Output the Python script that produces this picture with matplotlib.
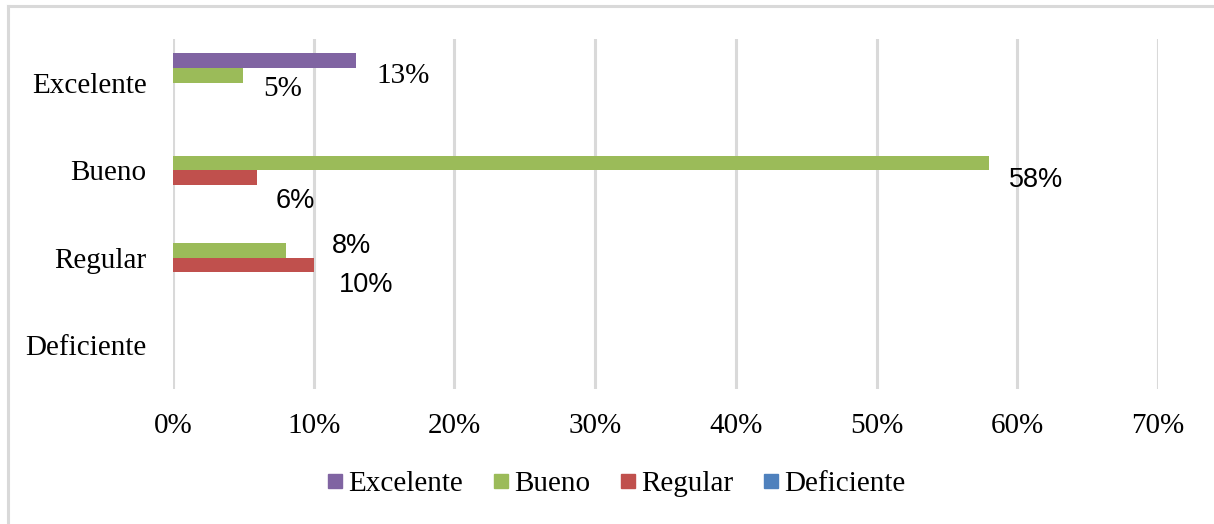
import numpy as np
import matplotlib
matplotlib.use("Agg")
import matplotlib.pyplot as plt
from matplotlib.lines import Line2D

# ---------------------------
# data
# ---------------------------
categories = ["Excelente", "Bueno", "Regular", "Deficiente"]
series_names = ["Excelente", "Bueno", "Regular", "Deficiente"]
excelente = [13, 0, 0, 0]
bueno = [5, 58, 8, 0]
regular = [0, 6, 10, 0]
deficiente = [0, 0, 0, 0]
x_ticks = [0, 10, 20, 30, 40, 50, 60, 70]

colors = ["#8064a2", "#9bbb59", "#c0504d", "#4f81bd"]
values = [excelente, bueno, regular, deficiente]

SERIF = "Liberation Serif"
SANS = "Liberation Sans"

fig = plt.figure(figsize=(12.14, 5.24), dpi=100)
ax = fig.add_axes([173 / 1214, 1 - 389 / 524, 985 / 1214, 350 / 524])

# categories top to bottom
ypos = np.arange(len(categories))[::-1]
bar_h = 0.168
offsets = [1.5 * bar_h, 0.5 * bar_h, -0.5 * bar_h, -1.5 * bar_h]

for vals, col, off in zip(values, colors, offsets):
    ax.barh(ypos + off, vals, height=bar_h, color=col, zorder=3)

# data labels (hand-placed in the original, offsets in points)
label_style = {
    (0, 0): (15, -11, SERIF),
    (1, 0): (14, -10, SERIF),
    (1, 1): (14, -12, SANS),
    (2, 1): (13, -17, SANS),
    (1, 2): (33, 3, SANS),
    (2, 2): (18, -14, SANS),
}
for (si, ci), (dx, dy, fam) in label_style.items():
    v = values[si][ci]
    ax.annotate(f"{v}%", xy=(v, ypos[ci] + offsets[si]), xytext=(dx, dy),
                textcoords="offset points", ha="left", va="center",
                fontsize=21 if fam == SERIF else 19.5, family=fam,
                color="#000000", zorder=4)

ax.set_xlim(0, 70)
ax.set_ylim(-0.5, len(categories) - 0.5)
ax.set_xticks(x_ticks)
ax.set_xticklabels([f"{t}%" for t in x_ticks], family=SERIF, fontsize=21)
ax.set_yticks(ypos)
ax.set_yticklabels(categories, family=SERIF, fontsize=21)
ax.tick_params(axis="both", length=0)
ax.tick_params(axis="x", pad=17)
ax.tick_params(axis="y", pad=19)
ax.grid(axis="x", color="#d9d9d9", linewidth=2.2, zorder=0)
ax.set_axisbelow(True)
for s in ax.spines.values():
    s.set_visible(False)

# legend
handles = [Line2D([], [], marker="s", linestyle="none", markersize=10,
                  markerfacecolor=c, markeredgecolor=c) for c in colors]
fig.legend(handles, series_names, loc="center", bbox_to_anchor=(616 / 1214, 1 - 484 / 524),
           ncol=4, frameon=False, handlelength=0.6, handletextpad=0.15,
           columnspacing=1.0, prop={"family": SERIF, "size": 21})

# chart border (only top and left edges visible in the crop)
fig.add_artist(Line2D([8 / 1214, 1.0], [1 - 6 / 524, 1 - 6 / 524],
                      color="#d9d9d9", linewidth=2.2, transform=fig.transFigure))
fig.add_artist(Line2D([8 / 1214, 8 / 1214], [0, 1 - 6 / 524],
                      color="#d9d9d9", linewidth=2.2, transform=fig.transFigure))

fig.savefig("out.png", dpi=100)
